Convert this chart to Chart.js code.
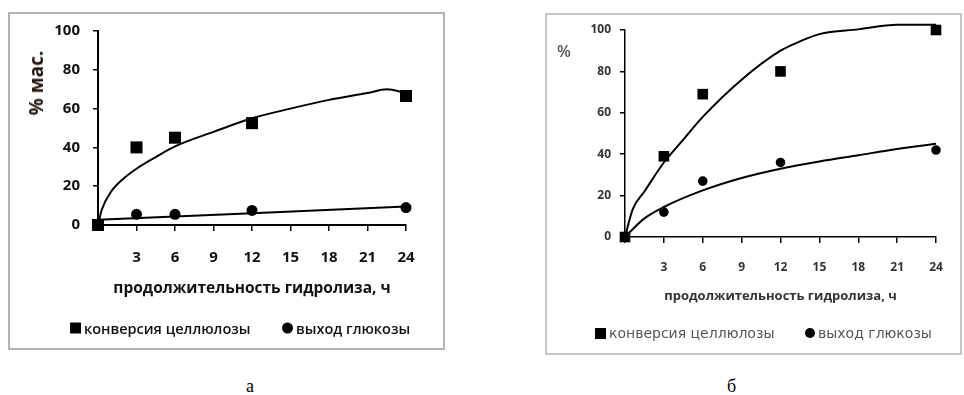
<!DOCTYPE html>
<html>
<head>
<meta charset="utf-8">
<script src="https://cdn.jsdelivr.net/npm/chart.js@4.4.1/dist/chart.umd.min.js"></script>
<style>
  body { margin: 0; background: #fff; width: 964px; height: 395px; position: relative; overflow: hidden; font-family: "Open Sans", sans-serif; }
  .box { position: absolute; box-sizing: border-box; background: #fff; }
  #boxA { left: 8px; top: 12px; width: 437px; height: 338px; border: 2px solid #b4b4b4; }
  #boxB { left: 545px; top: 13px; width: 417px; height: 342px; border: 2px solid #c8c8c8; }
  canvas { position: absolute; left: 0; top: 0; }
  .ytitle { position: absolute; white-space: nowrap; }
  #ytA { left: 36px; top: 83px; transform: translate(-50%, -50%) rotate(-90deg); font: bold 19px "Open Sans", sans-serif; color: #24140c; }
  #ytB { left: 564px; top: 51px; transform: translate(-50%, -50%); font: 600 16px "Open Sans", sans-serif; color: #555; }
  .sub { position: absolute; top: 376px; font: 18px "Liberation Serif", serif; color: #000; }
  .lg { position: absolute; display: flex; align-items: center; white-space: nowrap; transform: translateY(-50%); }
  .lg i { display: inline-block; background: #000; margin-right: 3px; }
  #legA .lg { font: 600 14.5px "Open Sans", sans-serif; color: #111; }
  #legB .lg { font: 14px "DejaVu Sans", sans-serif; color: #555; }
</style>
</head>
<body>
<div class="box" id="boxA"><canvas id="chartA" width="433" height="334"></canvas></div>
<div class="box" id="boxB"><canvas id="chartB" width="413" height="338"></canvas></div>
<div class="ytitle" id="ytA">% мас.</div>
<div class="ytitle" id="ytB">%</div>
<div id="legA"></div>
<div id="legB"></div>
<div class="sub" style="left:246px">а</div>
<div class="sub" style="left:727px">б</div>
<script>
// ось времени
const hours = [0, 3, 6, 12, 24];
const xTicks = [0, 3, 6, 9, 12, 15, 18, 21, 24];
const seriesNames = ['конверсия целлюлозы', 'выход глюкозы'];

// график а
const conversionA = [0, 40, 45, 52.5, 66.5];
const glucoseA = [0, 5.5, 5.5, 7.5, 9];
const trendHoursA = [0, 0.3, 1, 2, 3, 4.5, 6, 9, 12, 15, 18, 21, 22.5, 24];
const conversionTrendA = [0, 8, 17, 24, 29, 35, 40.5, 48, 55, 60, 64.5, 68, 70, 68];
const glucoseTrendHoursA = [0, 24];
const glucoseTrendA = [2.7, 9.5];

// график б
const conversionB = [0, 39, 69, 80, 100];
const glucoseB = [0, 12, 27, 36, 42];
const trendHoursB = [0, 0.6, 1.5, 3, 4.5, 6, 9, 12, 13.5, 15, 18, 21, 24];
const conversionTrendB = [0, 13.5, 22, 36, 47, 58, 76, 90, 94.5, 98, 100.3, 102.5, 102.5];
const glucoseTrendHoursB = [0, 1.5, 3, 6, 9, 12, 15, 18, 21, 24];
const glucoseTrendB = [0, 9, 14.5, 22.5, 28.5, 33, 36.5, 39.5, 42.5, 45];

const toPoints = (xs, ys) => xs.map((x, i) => ({ x: x, y: ys[i] }));

function renderChart(id, s) {
    const axisFont = { family: s.family, size: s.tickSize, weight: 'bold' };
    return new Chart(document.getElementById(id), {
        type: 'scatter',
        data: {
            datasets: [
                { label: seriesNames[0], data: toPoints(hours, s.conv), pointStyle: 'rect', pointRadius: s.rectR, backgroundColor: '#000', borderWidth: 0, clip: false },
                { label: seriesNames[1], data: toPoints(hours, s.gluc), pointStyle: 'circle', pointRadius: s.dotR, backgroundColor: '#000', borderWidth: 0, clip: false },
                { label: 't1', data: toPoints(s.convTrendX, s.convTrend), showLine: true, pointRadius: 0, borderColor: '#000', borderWidth: s.lineW, cubicInterpolationMode: 'monotone', clip: false },
                { label: 't2', data: toPoints(s.glucTrendX, s.glucTrend), showLine: true, pointRadius: 0, borderColor: '#000', borderWidth: s.lineW, cubicInterpolationMode: 'monotone', clip: false }
            ]
        },
        options: {
            responsive: false,
            animation: false,
            layout: { padding: s.padding },
            scales: {
                x: {
                    type: 'linear', min: 0, max: 24,
                    afterBuildTicks: scale => { scale.ticks = xTicks.map(v => ({ value: v })); },
                    afterFit: scale => { scale.height = s.xHeight; },
                    ticks: { callback: v => v === 0 ? '' : v, color: s.textColor, font: axisFont, padding: s.xPad, maxRotation: 0 },
                    grid: { drawOnChartArea: false, drawTicks: true, tickLength: 6, color: '#000', lineWidth: 1.5 },
                    border: { display: true, color: '#000', width: s.axisW },
                    title: { display: true, text: 'продолжительность гидролиза, ч', color: s.textColor, font: { family: s.family, size: s.titleSize, weight: 'bold' }, padding: { top: 0, bottom: s.titlePadB } }
                },
                y: {
                    min: 0, max: 100,
                    afterFit: scale => {
                        scale.width = s.yWidth;
                        scale.paddingTop = 0;
                        scale.paddingBottom = 0;
                    },
                    ticks: { stepSize: 20, color: s.textColor, font: axisFont, padding: s.yPad },
                    grid: { drawOnChartArea: false, drawTicks: true, tickLength: 5, color: '#000', lineWidth: 1.5 },
                    border: { display: true, color: '#000', width: s.axisW }
                }
            },
            plugins: {
                tooltip: { enabled: false },
                legend: { display: false }
            }
        }
    });
}

// легенда под графиком (из наборов данных графика)
function renderLegend(chart, boxId, s) {
    const box = document.getElementById(boxId);
    Chart.defaults.plugins.legend.labels.generateLabels(chart)
        .filter(item => item.datasetIndex < 2)
        .forEach((item, i) => {
            const el = document.createElement('div');
            el.className = 'lg';
            el.style.left = s.itemX[i] + 'px';
            el.style.top = s.y + 'px';
            const mark = document.createElement('i');
            mark.style.width = mark.style.height = s.mark[i] + 'px';
            if (item.pointStyle === 'circle') mark.style.borderRadius = '50%';
            el.appendChild(mark);
            el.appendChild(document.createTextNode(item.text));
            box.appendChild(el);
        });
}

const chartA = renderChart('chartA', {
    conv: conversionA, gluc: glucoseA,
    convTrendX: trendHoursA, convTrend: conversionTrendA,
    glucTrendX: glucoseTrendHoursA, glucTrend: glucoseTrendA,
    family: '"Open Sans", sans-serif', textColor: '#111',
    tickSize: 15, titleSize: 15.5,
    rectR: 8.5, dotR: 5.5, lineW: 2, axisW: 2,
    padding: { left: 0, top: 17, right: 37, bottom: 58 },
    yWidth: 88, yPad: 13, xPad: 18, xHeight: 65, titlePadB: -8
});

const chartB = renderChart('chartB', {
    conv: conversionB, gluc: glucoseB,
    convTrendX: trendHoursB, convTrend: conversionTrendB,
    glucTrendX: glucoseTrendHoursB, glucTrend: glucoseTrendB,
    family: '"Open Sans", sans-serif', textColor: '#333',
    tickSize: 12, titleSize: 13,
    rectR: 7.5, dotR: 4.8, lineW: 2, axisW: 1.5,
    padding: { left: 0, top: 15, right: 24, bottom: 56 },
    yWidth: 78, yPad: 9, xPad: 17, xHeight: 60, titlePadB: -7.5
});

renderLegend(chartA, 'legA', { itemX: [70, 282], y: 328, mark: [11, 11] });
renderLegend(chartB, 'legB', { itemX: [595, 805], y: 333, mark: [11, 10] });
</script>
</body>
</html>
